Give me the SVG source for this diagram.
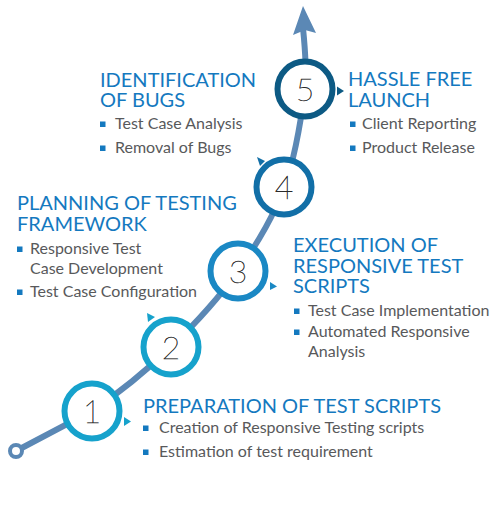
<svg xmlns="http://www.w3.org/2000/svg" width="500" height="505" viewBox="0 0 500 505">
<style>
.title{font-family:Lato,"Liberation Sans",sans-serif;font-size:20px;fill:#1479bf}
.body{font-family:Lato,"Liberation Sans",sans-serif;font-size:16px;fill:#58595b}
.num{font-family:Lato,"Liberation Sans",sans-serif;font-size:32px;font-weight:100;fill:#2a2a2a;stroke:#2a2a2a;stroke-width:0.45;text-anchor:middle}
.bul{fill:#1479bf}
.ring{fill:#fff;stroke-width:6}
</style>
<rect width="500" height="505" fill="#fff"/>
<g id="connectors">
<path d="M16,451 L92,411 C117.8,393.7 146.7,370.3 171,347 C195.3,323.7 219.2,297.5 238,271 C256.8,244.5 272.8,218.3 284,188 C295.2,157.7 301.8,114.5 305,89 C307,70 305,48 303,28" fill="none" stroke="#5b88b5" stroke-width="6" stroke-linecap="round"/>
<polygon points="303,6 316,33 305,30 293,35" fill="#5b88b5"/>
<circle cx="16" cy="451" r="6" fill="#fff" stroke="#5b88b5" stroke-width="4"/>
</g>
<g id="step1">
<circle class="ring" cx="92" cy="411" r="27.5" stroke="#16a2cc"/>
<polygon points="124,417 131,421.5 124,426" fill="#16a2cc"/>
<text class="num" x="92" y="423">1</text>
<text class="title" x="143" y="413">PREPARATION OF TEST SCRIPTS</text>
<rect class="bul" x="143" y="425.5" width="5.5" height="5.5"/>
<text class="body" x="159" y="433">Creation of Responsive Testing scripts</text>
<rect class="bul" x="143" y="449.5" width="5.5" height="5.5"/>
<text class="body" x="159" y="457">Estimation of test requirement</text>
</g>
<g id="step2">
<circle class="ring" cx="171" cy="347" r="27.5" stroke="#16a2cc"/>
<polygon points="147,313 155,317 148,322" fill="#16a2cc"/>
<text class="num" x="171" y="359">2</text>
</g>
<g id="step3">
<circle class="ring" cx="238" cy="271" r="27.5" stroke="#1a88c4"/>
<polygon points="270,282 277,286.5 270,290" fill="#1a88c4"/>
<text class="num" x="238" y="283">3</text>
<text class="title" x="293" y="252">EXECUTION OF</text>
<text class="title" x="293" y="273">RESPONSIVE TEST</text>
<text class="title" x="293" y="293">SCRIPTS</text>
<rect class="bul" x="294" y="308.5" width="5.5" height="5.5"/>
<text class="body" x="308" y="316">Test Case Implementation</text>
<rect class="bul" x="294" y="329.5" width="5.5" height="5.5"/>
<text class="body" x="308" y="337">Automated Responsive</text>
<text class="body" x="308" y="357">Analysis</text>
</g>
<g id="step4">
<circle class="ring" cx="284" cy="187" r="27.5" stroke="#126fa7"/>
<polygon points="257,157 265,161 260,166" fill="#126fa7"/>
<text class="num" x="284" y="199">4</text>
<text class="title" x="17" y="210">PLANNING OF TESTING</text>
<text class="title" x="17" y="231">FRAMEWORK</text>
<rect class="bul" x="17" y="246.5" width="5.5" height="5.5"/>
<text class="body" x="30" y="254">Responsive Test</text>
<text class="body" x="30" y="274">Case Development</text>
<rect class="bul" x="17" y="289.5" width="5.5" height="5.5"/>
<text class="body" x="30" y="297">Test Case Configuration</text>
</g>
<g id="step5">
<circle class="ring" cx="305" cy="89" r="27.5" stroke="#0d5a84"/>
<polygon points="337,86.5 344,91 337,95.5" fill="#0d5a84"/>
<text class="num" x="305" y="101">5</text>
<text class="title" x="348" y="86">HASSLE FREE</text>
<text class="title" x="348" y="107">LAUNCH</text>
<rect class="bul" x="350" y="121.5" width="5.5" height="5.5"/>
<text class="body" x="362" y="129">Client Reporting</text>
<rect class="bul" x="350" y="145.5" width="5.5" height="5.5"/>
<text class="body" x="362" y="153">Product Release</text>
</g>
<g id="identification">
<text class="title" x="100" y="87">IDENTIFICATION</text>
<text class="title" x="100" y="107">OF BUGS</text>
<rect class="bul" x="100" y="121.5" width="5.5" height="5.5"/>
<text class="body" x="115" y="129">Test Case Analysis</text>
<rect class="bul" x="100" y="145.5" width="5.5" height="5.5"/>
<text class="body" x="115" y="153">Removal of Bugs</text>
</g>
</svg>
